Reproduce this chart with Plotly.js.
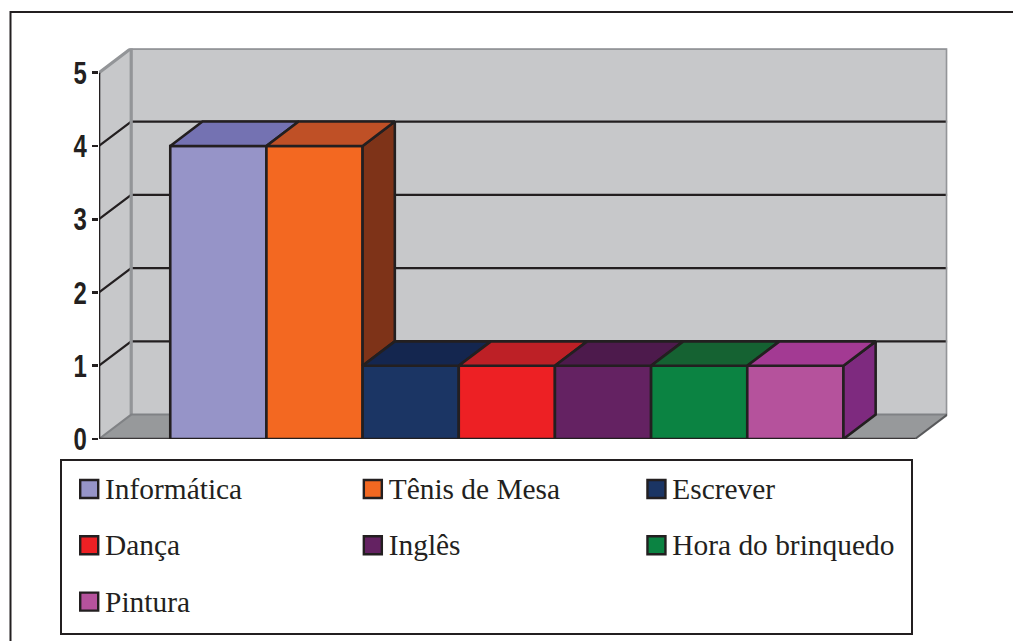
<!DOCTYPE html>
<html>
<head>
<meta charset="utf-8">
<script src="https://cdn.plot.ly/plotly-3.0.1.min.js"></script>
<style>html,body{margin:0;padding:0;background:#fff}#chart{width:1013px;height:641px}</style>
</head>
<body>
<div id="chart"></div>
<script>
// Activities and the number of mentions of each
const categories = ['Informática', 'Tênis de Mesa', 'Escrever', 'Dança', 'Inglês', 'Hora do brinquedo', 'Pintura'];
const values = [4, 4, 1, 1, 1, 1, 1];
const frontColors = ['#9694c8', '#f36821', '#1b3564', '#ed2024', '#642262', '#0b8342', '#b5529c'];
const topColors = ['#7472b2', '#bf5026', '#14264f', '#bd2026', '#4d1a4c', '#156232', '#a33a93'];
const sideColors = ['#5d5b96', '#7e3318', '#101f40', '#8f181c', '#3b143a', '#0e4d27', '#7e2a7f'];
const yTicks = [0, 1, 2, 3, 4, 5];
const gridValues = [1, 2, 3, 4];

// Page size and plot boxes, in pixels
const W = 1013, H = 641;
const plotBox = {l: 99, r: 947.3, t: 48.3, b: 439};
const legendBox = {l: 61.7, r: 911, t: 460.7, b: 633.3};

// Data-space extents: the slot of a bar is one x unit wide, the oblique depth is constant
const depthX = 0.335, depthY = 0.333;
const xFront = [-1.241, 7.245], yMax = 5;
const xRange = [xFront[0], xFront[1] + depthX];
const yRange = [0, yMax + depthY];

const INK = '#231f20', WALL = '#c7c8ca', FLOOR = '#97999b', EDGE = '#939598';
const none = {hoverinfo: 'skip', showlegend: false};

function polygon(xs, ys, fill, lineColor, lineWidth, axes) {
  return Object.assign({
    type: 'scatter', mode: 'lines', x: xs.concat(xs[0]), y: ys.concat(ys[0]),
    fill: 'toself', fillcolor: fill, cliponaxis: false,
    line: {color: lineColor, width: lineWidth, shape: 'linear'}
  }, axes || {}, none);
}
function path(xs, ys, color, width, axes) {
  return Object.assign({
    type: 'scatter', mode: 'lines', x: xs, y: ys, cliponaxis: false,
    line: {color: color, width: width}
  }, axes || {}, none);
}

const traces = [];
const [xl, xr] = xFront;
const bx = xl + depthX, brx = xr + depthX;

// Walls and floor of the box
traces.push(polygon([xl, bx, bx, xl], [0, depthY, yMax + depthY, yMax], WALL, WALL, 0));
traces.push(polygon([bx, brx, brx, bx], [depthY, depthY, yMax + depthY, yMax + depthY], WALL, WALL, 0));
traces.push(polygon([xl, xr, brx, bx], [0, 0, depthY, depthY], FLOOR, FLOOR, 0));

// Grid lines run across the side wall and then along the back wall
gridValues.forEach(v => {
  traces.push(path([xl, bx, brx], [v, v + depthY, v + depthY], INK, 2.2));
});

// Grey edges of the box
traces.push(path([xl, bx, brx, brx], [yMax, yMax + depthY, yMax + depthY, depthY], EDGE, 3.2));
traces.push(path([bx, bx], [depthY, yMax + depthY], EDGE, 3.2));
traces.push(path([xl, bx, brx], [0, depthY, depthY], '#808285', 2));
traces.push(path([brx, xr], [depthY, 0], '#58595b', 2));

// Front axis line and base line
traces.push(path([xl, xl], [0, yMax], INK, 2.6));
traces.push(path([xl, xr], [0, 0], '#3a3738', 2.6));

// Front faces of the bars sit on an overlay so they cover the box
const barAxes = {xaxis: 'x2', yaxis: 'y2'};
traces.push(Object.assign({
  type: 'bar', x: values.map((_, i) => i), y: values, width: 1, cliponaxis: false,
  marker: {color: frontColors, line: {color: INK, width: 2.6}}
}, barAxes, none));

// Top faces and the visible part of the side faces
values.forEach((v, i) => {
  const a = i - 0.5, b = i + 0.5;
  const next = i + 1 < values.length ? values[i + 1] : 0;
  if (next < v) {
    traces.push(polygon([b, b + depthX, b + depthX, b],
      [next, next + depthY, v + depthY, v], sideColors[i], INK, 2.6, barAxes));
  }
  traces.push(polygon([a, b, b + depthX, a + depthX],
    [v, v, v + depthY, v + depthY], topColors[i], INK, 2.6, barAxes));
});

// Key below the chart: three columns, filled row by row
const keyColumns = 3;
const keyTextDx = 0.056, keyTextDy = 0.05;
const keyX = categories.map((_, i) => i % keyColumns);
const keyY = categories.map((_, i) => Math.floor(i / keyColumns));
traces.push(Object.assign({
  type: 'scatter', mode: 'markers', x: keyX, y: keyY, xaxis: 'x3', yaxis: 'y3', cliponaxis: false,
  marker: {symbol: 'square', size: 18, color: frontColors, line: {color: INK, width: 2.4}}
}, none));
traces.push(Object.assign({
  type: 'scatter', mode: 'text', xaxis: 'x3', yaxis: 'y3', cliponaxis: false,
  x: keyX.map(x => x + keyTextDx), y: keyY.map(y => y + keyTextDy),
  text: categories, textposition: 'middle right',
  textfont: {family: '"Liberation Serif", serif', size: 29.4, color: INK}
}, none));

const hidden = {visible: false, showgrid: false, zeroline: false, fixedrange: true};
const px = (a, b, total) => [a / total, b / total];

const layout = {
  width: W, height: H, margin: {l: 0, r: 0, t: 0, b: 0},
  paper_bgcolor: '#fff', plot_bgcolor: 'rgba(0,0,0,0)',
  showlegend: false, hovermode: false, barmode: 'overlay',
  xaxis: Object.assign({}, hidden, {domain: px(plotBox.l, plotBox.r, W), range: xRange}),
  yaxis: {
    domain: [1 - plotBox.b / H, 1 - plotBox.t / H], range: yRange, fixedrange: true,
    tickmode: 'array', tickvals: yTicks, ticktext: yTicks.map(String),
    ticks: 'outside', ticklen: 6, tickwidth: 2.6, tickcolor: INK,
    showgrid: false, zeroline: false, showline: false,
    tickfont: {family: '"Liberation Sans", sans-serif', size: 31.5, color: INK, weight: 700},
    ticklabelstandoff: 0
  },
  xaxis2: Object.assign({}, hidden, {overlaying: 'x', range: xRange}),
  yaxis2: Object.assign({}, hidden, {overlaying: 'y', range: yRange}),
  xaxis3: {
    domain: px(legendBox.l, legendBox.r, W), range: [-0.097, 2.8975], anchor: 'y3',
    showgrid: false, zeroline: false, showticklabels: false, ticks: '', fixedrange: true,
    showline: true, mirror: true, linecolor: INK, linewidth: 2
  },
  yaxis3: {
    domain: [1 - legendBox.b / H, 1 - legendBox.t / H], range: [2.563, -0.503], anchor: 'x3',
    showgrid: false, zeroline: false, showticklabels: false, ticks: '', fixedrange: true,
    showline: true, mirror: true, linecolor: INK, linewidth: 2
  },
  shapes: [{
    // Outer frame, open at the bottom and on the right
    type: 'path', xref: 'paper', yref: 'paper',
    path: `M ${10.5 / W} 0 L ${10.5 / W} ${1 - 12 / H} L 1 ${1 - 12 / H}`,
    line: {color: INK, width: 2}
  }]
};

// The axis numerals are set in a condensed cut: squeeze them about their right edge
const numeralSqueeze = 0.76, numeralShift = 1;
Plotly.newPlot('chart', traces, layout, {displayModeBar: false, staticPlot: true}).then(gd => {
  gd.querySelectorAll('.ytick text').forEach(t => {
    const x = parseFloat(t.getAttribute('x')) || 0;
    const base = t.getAttribute('transform') || '';
    t.setAttribute('transform', `${base} translate(${x + numeralShift},0) scale(${numeralSqueeze},1) translate(${-x},0)`);
  });
});
</script>
</body>
</html>
